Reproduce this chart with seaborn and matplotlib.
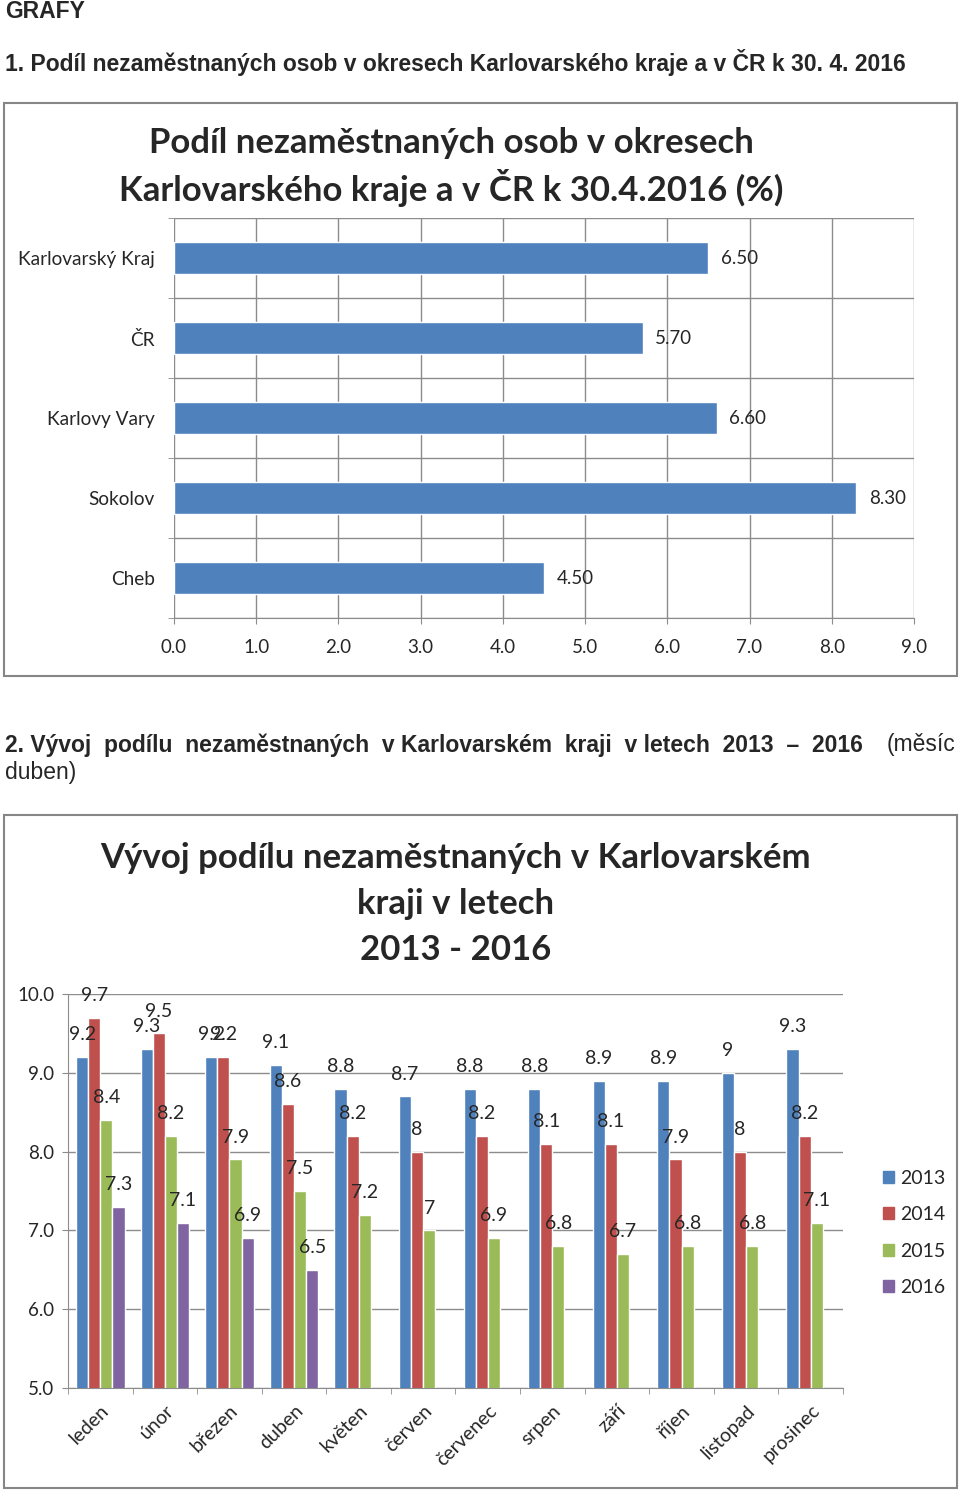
import numpy as np
import pandas as pd
import matplotlib
matplotlib.use("Agg")
import matplotlib.pyplot as plt
import seaborn as sns
from matplotlib.patches import Rectangle

# chart 1 data
areas = ["Karlovarský Kraj", "ČR", "Karlovy Vary", "Sokolov", "Cheb"]
share_2016 = [6.5, 5.7, 6.6, 8.3, 4.5]

# chart 2 data
months = ["leden", "únor", "březen", "duben", "květen", "červen",
          "červenec", "srpen", "září", "říjen", "listopad", "prosinec"]
years = ["2013", "2014", "2015", "2016"]
y2013 = [9.2, 9.3, 9.2, 9.1, 8.8, 8.7, 8.8, 8.8, 8.9, 8.9, 9.0, 9.3]
y2014 = [9.7, 9.5, 9.2, 8.6, 8.2, 8.0, 8.2, 8.1, 8.1, 7.9, 8.0, 8.2]
y2015 = [8.4, 8.2, 7.9, 7.5, 7.2, 7.0, 6.9, 6.8, 6.7, 6.8, 6.8, 7.1]
y2016 = [7.3, 7.1, 6.9, 6.5] + [np.nan] * 8

colors = ["#4F81BD", "#C0504D", "#9BBB59", "#8064A2"]
W, H = 960, 1492

sns.set_style("white")
plt.rcParams['font.family'] = ['Lato', 'DejaVu Sans']

fig = plt.figure(figsize=(W / 100, H / 100), dpi=100)


def px(x0, y0, x1, y1):
    return [x0 / W, 1 - y1 / H, (x1 - x0) / W, (y1 - y0) / H]


def fy(y):
    return 1 - y / H


head = ['Liberation Sans', 'DejaVu Sans']
fig.text(5 / W, fy(18), "GRAFY", family=head, weight='bold', fontsize=16.5, va='baseline')
fig.text(5 / W, fy(62), "1. Podíl nezaměstnaných osob v okresech Karlovarského kraje a v ČR k 30. 4. 2016",
         family=head, weight='bold', fontsize=16.5, va='center')
fig.text(5 / W, fy(745), "2. Vývoj  podílu  nezaměstnaných  v Karlovarském  kraji  v letech  2013  –  2016",
         family=head, weight='bold', fontsize=16.5, va='center')
fig.text(955 / W, fy(745), "(měsíc", family=head, fontsize=16.5, va='center', ha='right')
fig.text(5 / W, fy(772), "duben)", family=head, fontsize=16.5, va='center')

# frames around both charts
for box in [(4, 103, 957, 676), (4, 815, 957, 1488)]:
    fig.patches.append(Rectangle((box[0] / W, fy(box[3])), (box[2] - box[0]) / W,
                                 (box[3] - box[1]) / H, transform=fig.transFigure,
                                 fill=False, edgecolor='#868686', lw=1.5))

grid_c = '#8c8c8c'

# ---- chart 1: horizontal bars ----
ax1 = fig.add_axes(px(174, 218, 914, 618))
df1 = pd.DataFrame({"area": areas, "value": share_2016})
sns.barplot(data=df1, x="value", y="area", orient='h', color=colors[0],
            width=0.4, saturation=1, ax=ax1)
ax1.set_xlim(0, 9)
ax1.set_ylim(4.5, -0.5)
ax1.set_xticks(np.arange(0, 9.1, 1))
ax1.set_xticklabels([f"{v:.1f}" for v in np.arange(0, 9.1, 1)], fontsize=13.5)
ax1.set_yticks(np.arange(-0.5, 4.6, 1), minor=True)
ax1.tick_params(axis='y', which='major', length=0, labelsize=13.7, pad=14)
ax1.tick_params(axis='y', which='minor', length=4, color=grid_c, left=True)
ax1.tick_params(axis='x', length=4, color=grid_c, bottom=True, pad=11)
ax1.grid(axis='x', which='major', color=grid_c, lw=1)
ax1.grid(axis='y', which='minor', color=grid_c, lw=1)
ax1.set_xlabel("")
ax1.set_ylabel("")
for s in ["top", "right", "left"]:
    ax1.spines[s].set_visible(False)
ax1.spines["bottom"].set_color(grid_c)
ax1.bar_label(ax1.containers[0], fmt="%.2f", padding=9, fontsize=13.5)
fig.text(451 / W, fy(143), "Podíl nezaměstnaných osob v okresech", ha='center', va='center',
         fontsize=25, weight='bold')
fig.text(451 / W, fy(188), "Karlovarského kraje a v ČR k 30.4.2016 (%)", ha='center', va='center',
         fontsize=25, weight='bold')

# ---- chart 2: grouped bars ----
ax2 = fig.add_axes(px(68, 994, 843, 1388))
df2 = pd.DataFrame({
    "month": np.repeat(months, len(years)),
    "year": np.tile(years, len(months)),
    "value": np.column_stack([y2013, y2014, y2015, y2016]).ravel(),
})
sns.barplot(data=df2, x="month", y="value", hue="year", hue_order=years,
            palette=colors, width=0.75, saturation=1, ax=ax2)
ax2.set_ylim(5, 10)
ax2.set_xlim(-0.5, 11.5)
ax2.set_yticks(np.arange(5, 10.1, 1))
ax2.set_yticklabels([f"{v:.1f}" for v in np.arange(5, 10.1, 1)], fontsize=13.5)
ax2.set_xticks(np.arange(-0.5, 11.6, 1), minor=True)
ax2.tick_params(axis='x', which='major', length=0, labelsize=14, pad=10)
ax2.tick_params(axis='x', which='minor', length=4, color=grid_c, bottom=True)
ax2.tick_params(axis='y', length=4, color=grid_c, left=True, pad=6)
plt.setp(ax2.get_xticklabels(), rotation=45, ha='right', rotation_mode='anchor')
ax2.grid(axis='y', color=grid_c, lw=1)
ax2.set_axisbelow(True)
ax2.set_xlabel("")
ax2.set_ylabel("")
for s in ["top", "right"]:
    ax2.spines[s].set_visible(False)
ax2.spines["left"].set_color(grid_c)
ax2.spines["bottom"].set_color(grid_c)
for cont in ax2.containers:
    ax2.bar_label(cont, labels=[("" if np.isnan(v) else f"{v:g}") for v in cont.datavalues],
                  padding=10, fontsize=14)
ax2.legend_.remove()
handles = [Rectangle((0, 0), 1, 1, color=c) for c in colors]
fig.legend(handles, years, loc='upper left', bbox_to_anchor=(873 / W, fy(1160)),
           bbox_transform=fig.transFigure, frameon=False, fontsize=14,
           handlelength=0.6, handleheight=0.6, handletextpad=0.3,
           labelspacing=1.0, borderpad=0)
for i, line in enumerate(["Vývoj podílu nezaměstnaných v Karlovarském", "kraji v letech", "2013 - 2016"]):
    fig.text(456 / W, fy(858 + 46 * i), line, ha='center', va='center', fontsize=25, weight='bold')

fig.savefig("out.png", dpi=100, facecolor='white')
